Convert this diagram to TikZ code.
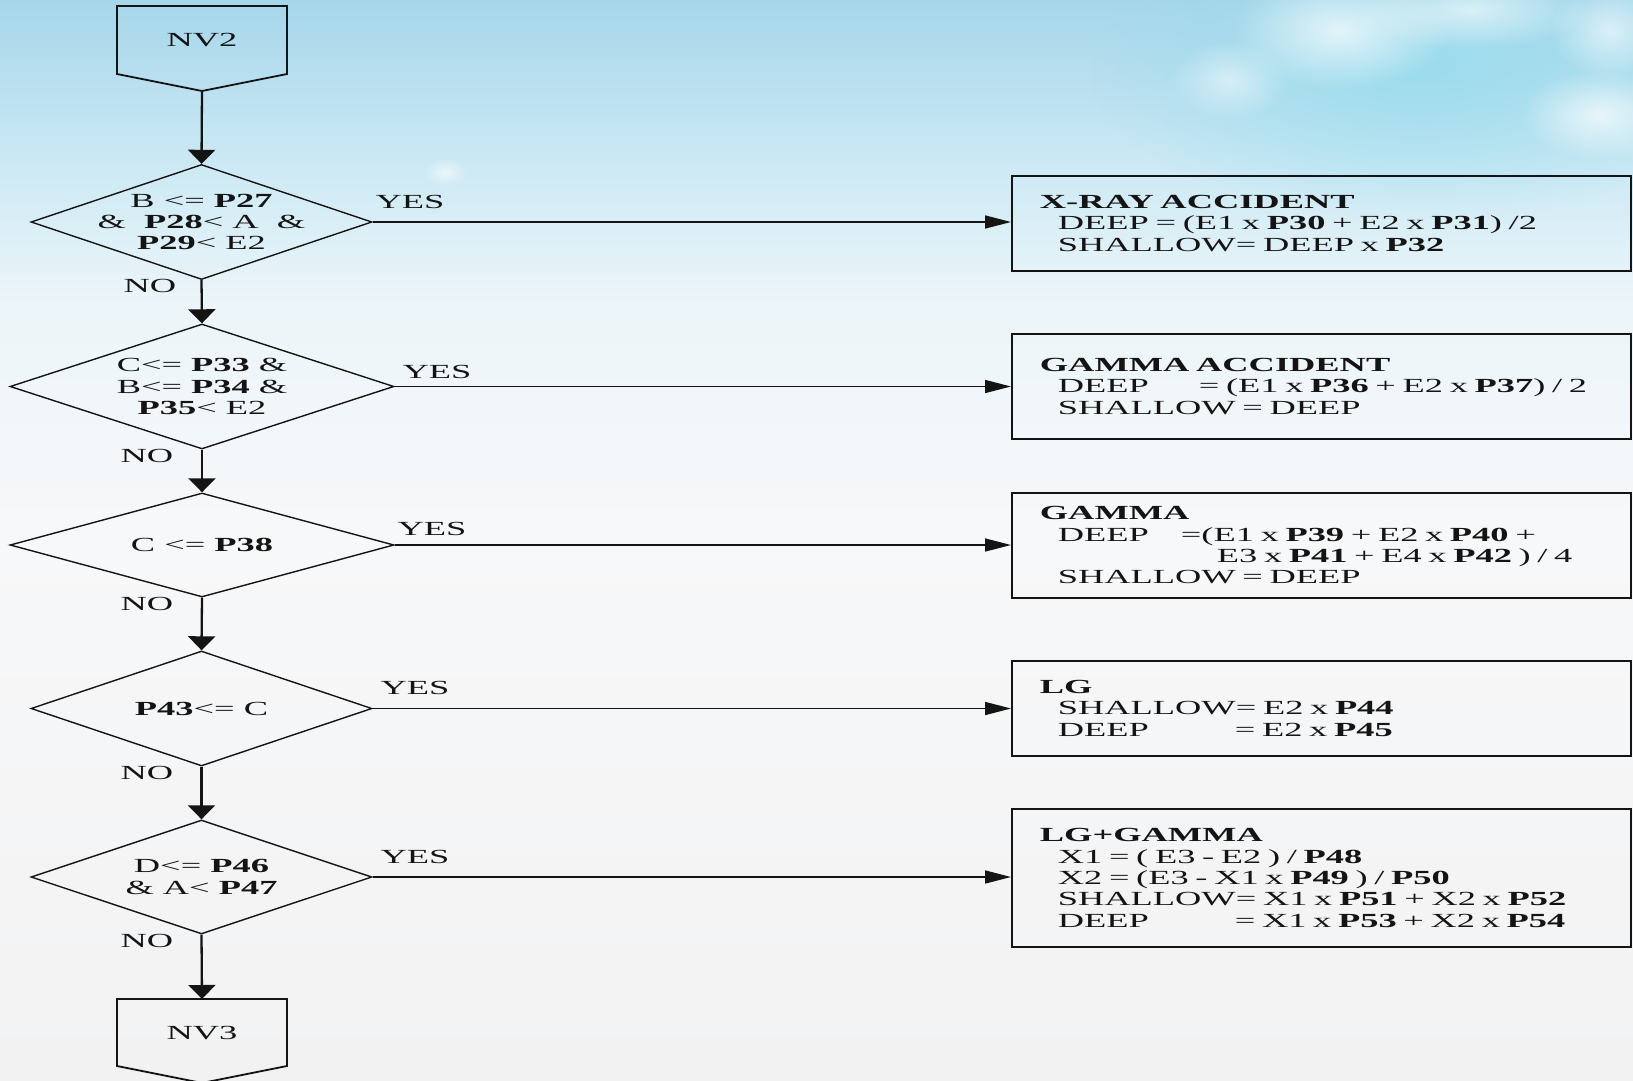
\documentclass[tikz,border=0pt]{standalone}
\usepackage{fontspec}
\setmainfont{Liberation Serif}[FakeStretch=1.82]
\usetikzlibrary{shapes.geometric,arrows.meta,fadings}
\definecolor{bgA}{RGB}{242,242,243}
\definecolor{bgB}{RGB}{247,248,249}
\definecolor{bgC}{RGB}{236,245,249}
\definecolor{bgD}{RGB}{206,234,245}
\definecolor{bgE}{RGB}{166,214,234}
\definecolor{cloudblue}{RGB}{150,220,237}
\definecolor{ink}{RGB}{20,20,20}
\pgfdeclareverticalshading{bgsh}{100bp}{color(0bp)=(bgA); color(25bp)=(bgA); color(50bp)=(bgB); color(61bp)=(bgC); color(67bp)=(bgD); color(75bp)=(bgE); color(100bp)=(bgE)}
\tikzfading[name=softfade, inner color=transparent!0, outer color=transparent!100]
\begin{document}
\begin{tikzpicture}[x=1pt,y=-1pt,
  font=\fontsize{20}{21.3}\selectfont,
  dia/.style={draw=ink, shape=diamond, inner sep=0pt, line width=1.4pt},
  dtext/.style={align=center, inner sep=0pt, text=ink},
  resbox/.style={draw=ink, line width=1.8pt, rectangle, inner xsep=28pt, inner ysep=0pt,
     text width=563pt, minimum width=619pt, align=left, anchor=north west, text=ink},
  varrow/.style={draw=ink, line width=2.3pt, -{Triangle[length=14pt,width=27pt]}},
  harrow/.style={draw=ink, line width=1.5pt, -{Triangle[length=26pt,width=13pt]}},
  lbl/.style={inner sep=0pt, text=ink},
  penta/.style={draw=ink, line width=1.8pt},
  cloud/.style={path fading=softfade}]
\useasboundingbox (0,0) rectangle (1633,1081);
% background
\shade[shading=bgsh] (0,0) rectangle (1633,1081);
\fill[cloudblue, opacity=0.8, cloud] (1420,70) ellipse [x radius=330pt, y radius=150pt];
\fill[white, opacity=0.7, cloud] (1340,30) ellipse [x radius=110pt, y radius=60pt];
\fill[white, opacity=0.6, cloud] (1470,10) ellipse [x radius=120pt, y radius=40pt];
\fill[white, opacity=0.7, cloud] (1600,115) ellipse [x radius=80pt, y radius=45pt];
\fill[white, opacity=0.6, cloud] (1610,30) ellipse [x radius=60pt, y radius=50pt];
\fill[white, opacity=0.5, cloud] (1230,80) ellipse [x radius=60pt, y radius=40pt];
\fill[white, opacity=0.6, cloud] (445,172) ellipse [x radius=22pt, y radius=14pt];

% start / end pentagons
\draw[penta] (117,6) -- (287,6) -- (287,74) -- (202,91) -- (117,74) -- cycle;
\node[lbl] (nv2) at (202,40) {NV2};
\coordinate (nv2tip) at (202,91);
\draw[penta] (117,999) -- (287,999) -- (287,1066) -- (202,1083) -- (117,1066) -- cycle;
\node[lbl] (nv3) at (202,1033) {NV3};
\coordinate (nv3top) at (202,999);

% decisions
\node[dia, minimum width=341pt, minimum height=115pt] (d1) at (201.5,222) {};
\node[dtext] (t1) at (d1) {B <= \textbf{P27}\\\& \ \textbf{P28}< A \ \&\\\textbf{P29}< E2};
\node[dia, minimum width=384pt, minimum height=125pt] (d2) at (202,386.5) {};
\node[dtext] (t2) at (d2) {C<= \textbf{P33} \&\\B<= \textbf{P34} \&\\\textbf{P35}< E2};
\node[dia, minimum width=384pt, minimum height=104pt] (d3) at (202,545) {};
\node[dtext] (t3) at (d3) {C <= \textbf{P38}};
\node[dia, minimum width=341pt, minimum height=115pt] (d4) at (201.5,708.5) {};
\node[dtext] (t4) at (d4) {\textbf{P43}<= C};
\node[dia, minimum width=341pt, minimum height=114pt] (d5) at (201.5,877) {};
\node[dtext] (t5) at (d5) {D<= \textbf{P46}\\\& A< \textbf{P47}};

% result boxes
\node[resbox, minimum height=95pt] (b1) at (1011,175) {\textbf{X-RAY ACCIDENT}\\
\hspace*{18pt}DEEP = (E1 x \textbf{P30} + E2 x \textbf{P31}) /2\\
\hspace*{18pt}SHALLOW= DEEP x \textbf{P32}};
\node[resbox, minimum height=105pt] (b2) at (1011,333) {\textbf{GAMMA ACCIDENT}\\
\hspace*{18pt}\makebox[141pt][l]{DEEP}= (E1 x \textbf{P36} + E2 x \textbf{P37}) / 2\\
\hspace*{18pt}SHALLOW = DEEP};
\node[resbox, minimum height=105pt] (b3) at (1011,492) {\textbf{GAMMA}\\
\hspace*{18pt}\makebox[123pt][l]{DEEP}=(E1 x \textbf{P39} + E2 x \textbf{P40} +\\
\hspace*{177pt}E3 x \textbf{P41} + E4 x \textbf{P42} ) / 4\\
\hspace*{18pt}SHALLOW = DEEP};
\node[resbox, minimum height=95pt] (b4) at (1011,660) {\textbf{LG}\\
\hspace*{18pt}SHALLOW= E2 x \textbf{P44}\\
\hspace*{18pt}\makebox[177pt][l]{DEEP}= E2 x \textbf{P45}};
\node[resbox, minimum height=138pt] (b5) at (1011,808) {\textbf{LG+GAMMA}\\
\hspace*{18pt}X1 = ( E3 - E2 ) / \textbf{P48}\\
\hspace*{18pt}X2 = (E3 - X1 x \textbf{P49} ) / \textbf{P50}\\
\hspace*{18pt}SHALLOW= X1 x \textbf{P51} + X2 x \textbf{P52}\\
\hspace*{18pt}\makebox[177pt][l]{DEEP}= X1 x \textbf{P53} + X2 x \textbf{P54}};

% vertical flow
\draw[varrow] (nv2tip) -- (d1.north);
\draw[varrow] (d1.south) -- (d2.north);
\draw[varrow] (d2.south) -- (d3.north);
\draw[varrow] (d3.south) -- (d4.north);
\draw[varrow] (d4.south) -- (d5.north);
\draw[varrow] (d5.south) -- (nv3top);

% yes branches
\draw[harrow] (d1.east) -- (d1.east -| b1.west);
\draw[harrow] (d2.east) -- (d2.east -| b2.west);
\draw[harrow] (d3.east) -- (d3.east -| b3.west);
\draw[harrow] (d4.east) -- (d4.east -| b4.west);
\draw[harrow] (d5.east) -- (d5.east -| b5.west);

% labels
\node[lbl] (y1) at (410,202) {YES};
\node[lbl] (y2) at (437,372) {YES};
\node[lbl] (y3) at (432,529) {YES};
\node[lbl] (y4) at (415,688) {YES};
\node[lbl] (y5) at (415,857) {YES};
\node[lbl] (n1) at (150,286) {NO};
\node[lbl] (n2) at (147,456) {NO};
\node[lbl] (n3) at (147,604) {NO};
\node[lbl] (n4) at (147,773) {NO};
\node[lbl] (n5) at (147,941) {NO};
\end{tikzpicture}
\end{document}
